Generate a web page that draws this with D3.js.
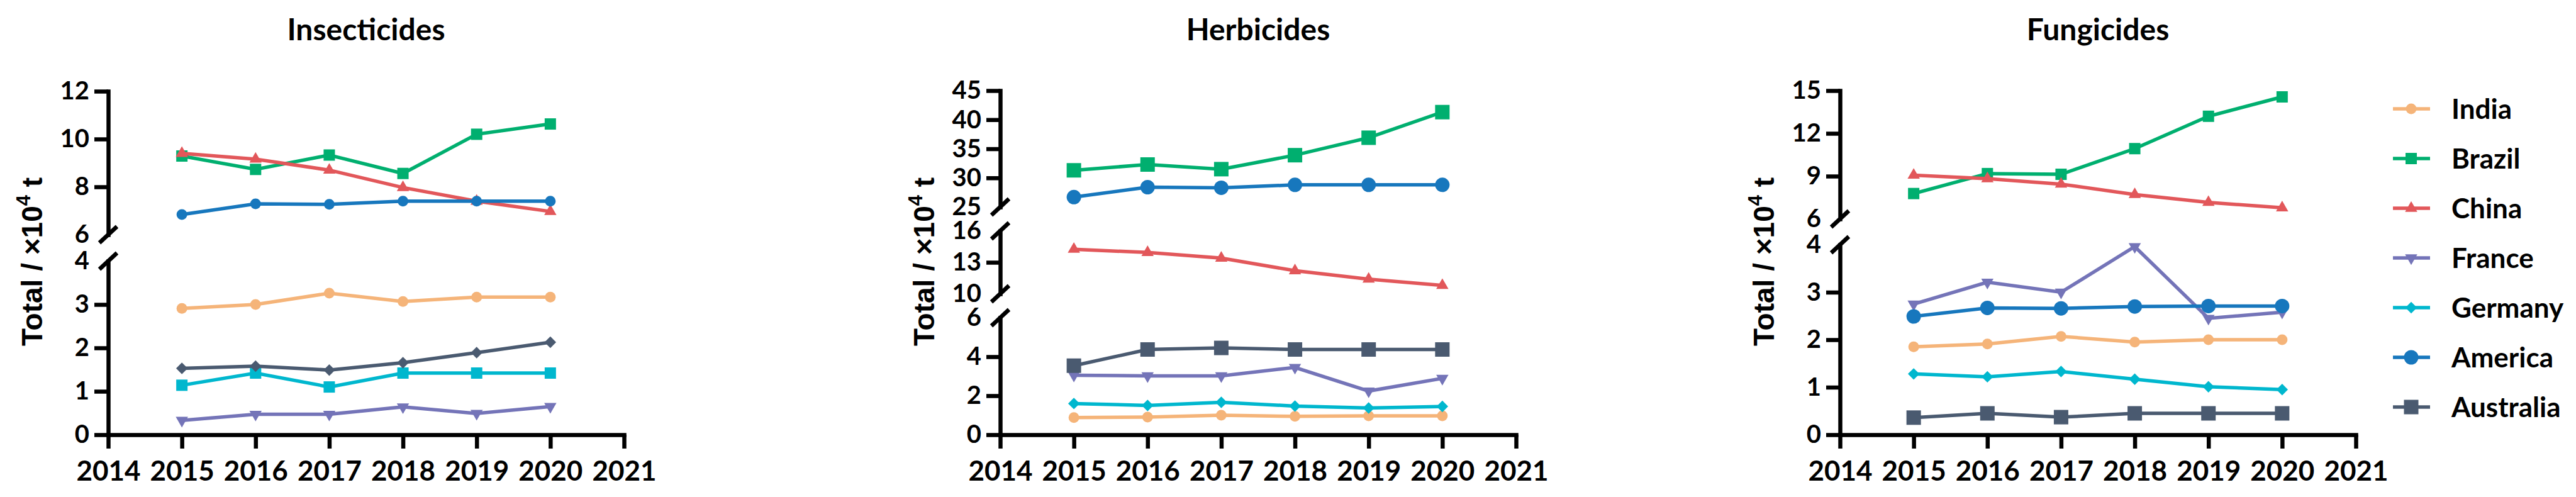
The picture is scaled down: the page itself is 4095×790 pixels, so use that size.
<!DOCTYPE html>
<html>
<head>
<meta charset="utf-8">
<script src="https://cdn.jsdelivr.net/npm/d3@7"></script>
<style>
  body { margin: 0; background: #fff; }
  svg { display: block; }
</style>
</head>
<body>
<svg id="chart" width="4095" height="790"></svg>
<script>
const years = [2015, 2016, 2017, 2018, 2019, 2020];
const yearTicks = [2014, 2015, 2016, 2017, 2018, 2019, 2020, 2021];
const countries = ['India', 'Brazil', 'China', 'France', 'Germany', 'America', 'Australia'];
const colors = ['#F5B479', '#00AF6F', '#E2575A', '#7474B8', '#00B7CE', '#1777BD', '#4A5A70'];

// rows follow the order of countries, unit: 10^4 t
const insecticides = [
  [2.91, 3.00, 3.26, 3.07, 3.17, 3.17],
  [9.29, 8.73, 9.33, 8.56, 10.20, 10.63],
  [9.40, 9.16, 8.70, 7.97, 7.40, 6.97],
  [0.33, 0.47, 0.47, 0.64, 0.49, 0.65],
  [1.14, 1.42, 1.10, 1.42, 1.42, 1.42],
  [6.84, 7.29, 7.27, 7.40, 7.40, 7.40],
  [1.53, 1.58, 1.49, 1.66, 1.89, 2.13]
];
const herbicides = [
  [0.88, 0.90, 1.00, 0.94, 0.97, 0.97],
  [31.3, 32.3, 31.5, 33.9, 36.9, 41.3],
  [14.25, 13.94, 13.40, 12.20, 11.40, 10.80],
  [3.05, 3.02, 3.02, 3.45, 2.24, 2.89],
  [1.60, 1.50, 1.66, 1.47, 1.37, 1.45],
  [26.7, 28.4, 28.3, 28.8, 28.8, 28.8],
  [3.54, 4.37, 4.45, 4.37, 4.37, 4.37]
];
const fungicides = [
  [1.85, 1.91, 2.07, 1.95, 2.00, 2.00],
  [7.78, 9.18, 9.13, 10.93, 13.20, 14.56],
  [9.07, 8.82, 8.44, 7.71, 7.16, 6.78],
  [2.75, 3.21, 3.00, 3.96, 2.45, 2.58],
  [1.28, 1.22, 1.33, 1.17, 1.01, 0.95],
  [2.49, 2.67, 2.66, 2.70, 2.71, 2.71],
  [0.36, 0.45, 0.37, 0.45, 0.45, 0.45]
];

// broken y axes: each segment is [min, max] with its tick values
const insecticideSegments = [[6, 12, [6, 8, 10, 12]], [0, 4, [0, 1, 2, 3, 4]]];
const herbicideSegments = [[25, 45, [25, 30, 35, 40, 45]], [10, 16, [10, 13, 16]], [0, 6, [0, 2, 4, 6]]];
const fungicideSegments = [[6, 15, [6, 9, 12, 15]], [0, 4, [0, 1, 2, 3, 4]]];

const insecticideShapes = ['circle', 'square', 'triangle', 'down', 'square', 'circle', 'diamond'];
const herbicideShapes = ['circle', 'square', 'triangle', 'down', 'diamond', 'circle', 'square'];
const fungicideShapes = ['circle', 'square', 'triangle', 'down', 'diamond', 'circle', 'square'];
const legendShapes = ['circle', 'square', 'triangle', 'down', 'diamond', 'circle', 'square'];

const panels = [
  { title: 'Insecticides', data: insecticides, segs: insecticideSegments, shapes: insecticideShapes,
    x0: 172, ranges: [[373, 145], [691, 415]], big: [] },
  { title: 'Herbicides', data: herbicides, segs: herbicideSegments, shapes: herbicideShapes,
    x0: 1590, ranges: [[329, 144], [467, 367], [691, 505]], big: ['Brazil', 'America', 'Australia'] },
  { title: 'Fungicides', data: fungicides, segs: fungicideSegments, shapes: fungicideShapes,
    x0: 2925, ranges: [[348, 144], [691, 389]], big: ['America', 'Australia'] }
];

const FONT = 'Lato, "Open Sans", sans-serif';
const AXIS_W = 6.5;
const LINE_W = 5.5;
const svg = d3.select('#chart');

function markerPath(shape, big) {
  const sym = d3.symbol();
  if (shape === 'circle') return sym.type(d3.symbolCircle).size(Math.PI * Math.pow(big ? 11.5 : 8.5, 2))();
  if (shape === 'square') return sym.type(d3.symbolSquare).size(big ? 23 * 23 : 18 * 18)();
  if (shape === 'diamond') return sym.type(d3.symbolSquare).size(big ? 200 : 170)();
  return sym.type(d3.symbolTriangle).size(big ? 220 : 165)();
}
function markerRotate(shape) {
  if (shape === 'diamond') return 45;
  if (shape === 'down') return 180;
  return 0;
}

panels.forEach(p => {
  const g = svg.append('g');
  const x = d3.scaleLinear().domain([2014, 2021]).range([p.x0, p.x0 + 820]);
  const scales = p.segs.map((s, i) => d3.scaleLinear().domain([s[0], s[1]]).range(p.ranges[i]));
  const segFor = v => p.segs.findIndex(s => v >= s[0] && v <= s[1]);
  const yOf = v => scales[segFor(v)](v);

  // title
  g.append('text')
    .attr('x', (x.range()[0] + x.range()[1]) / 2)
    .attr('y', 64)
    .attr('text-anchor', 'middle')
    .attr('font-family', FONT)
    .attr('font-weight', 700)
    .attr('font-size', 48)
    .text(p.title);

  // y axis title
  const yt = g.append('text')
    .attr('transform', `translate(${p.x0 - 105},416) rotate(-90)`)
    .attr('text-anchor', 'middle')
    .attr('font-family', '"Liberation Sans", Arial, sans-serif')
    .attr('font-weight', 700)
    .attr('font-size', 46);
  yt.append('tspan').text('Total / ×10');
  yt.append('tspan').attr('dy', -19).attr('font-size', 31).text('4');
  yt.append('tspan').attr('dy', 19).text(' t');

  // y axis segments with break marks
  scales.forEach((sc, i) => {
    const seg = p.segs[i];
    const ax = g.append('g')
      .attr('transform', `translate(${p.x0},0)`)
      .call(d3.axisLeft(sc).tickValues(seg[2]).tickFormat(d3.format('d'))
        .tickSize(22).tickSizeOuter(0).tickPadding(8));
    ax.select('.domain').attr('stroke-width', AXIS_W).attr('stroke-linecap', 'square');
    ax.selectAll('.tick line').attr('stroke-width', AXIS_W)
      .attr('opacity', d => {
        const atBreakTop = i > 0 && d === seg[1];
        const atBreakBottom = i < scales.length - 1 && d === seg[0];
        return atBreakTop || atBreakBottom ? 0 : 1;
      });
    ax.selectAll('.tick text')
      .attr('font-family', FONT).attr('font-weight', 700).attr('font-size', 40).attr('fill', '#000');
    // slash at each broken end
    const ends = [];
    if (i > 0) ends.push(sc(seg[1]));
    if (i < scales.length - 1) ends.push(sc(seg[0]));
    ends.forEach(yy => {
      g.append('line')
        .attr('x1', p.x0 - 14).attr('y1', yy + 13)
        .attr('x2', p.x0 + 14).attr('y2', yy - 13)
        .attr('stroke', '#000').attr('stroke-width', AXIS_W);
    });
  });

  // x axis
  const xa = g.append('g')
    .attr('transform', `translate(0,${p.ranges[p.ranges.length - 1][0]})`)
    .call(d3.axisBottom(x).tickValues(yearTicks).tickFormat(d3.format('d'))
      .tickSize(22).tickSizeOuter(0).tickPadding(20));
  xa.select('.domain').attr('stroke-width', AXIS_W).attr('stroke-linecap', 'square');
  xa.selectAll('.tick line').attr('stroke-width', AXIS_W);
  xa.selectAll('.tick text')
    .attr('font-family', FONT).attr('font-weight', 700).attr('font-size', 44).attr('fill', '#000');

  // series
  const line = d3.line().x((d, j) => x(years[j])).y(d => yOf(d));
  p.data.forEach((vals, k) => {
    const big = p.big.includes(countries[k]);
    g.append('path')
      .attr('d', line(vals))
      .attr('fill', 'none')
      .attr('stroke', colors[k])
      .attr('stroke-width', LINE_W);
    g.selectAll(null)
      .data(vals)
      .enter()
      .append('path')
      .attr('d', markerPath(p.shapes[k], big))
      .attr('transform', (d, j) => `translate(${x(years[j])},${yOf(d)}) rotate(${markerRotate(p.shapes[k])})`)
      .attr('fill', colors[k]);
  });
});

// legend
const legend = svg.append('g');
countries.forEach((c, i) => {
  const y = 173 + i * 79;
  const big = c === 'America' || c === 'Australia';
  legend.append('line')
    .attr('x1', 3804).attr('x2', 3863).attr('y1', y).attr('y2', y)
    .attr('stroke', colors[i]).attr('stroke-width', LINE_W);
  legend.append('path')
    .attr('d', markerPath(legendShapes[i], big))
    .attr('transform', `translate(3833,${y}) rotate(${markerRotate(legendShapes[i])})`)
    .attr('fill', colors[i]);
  legend.append('text')
    .attr('x', 3897).attr('y', y).attr('dy', '0.36em')
    .attr('font-family', FONT).attr('font-weight', 700).attr('font-size', 44)
    .text(c);
});
</script>
</body>
</html>
